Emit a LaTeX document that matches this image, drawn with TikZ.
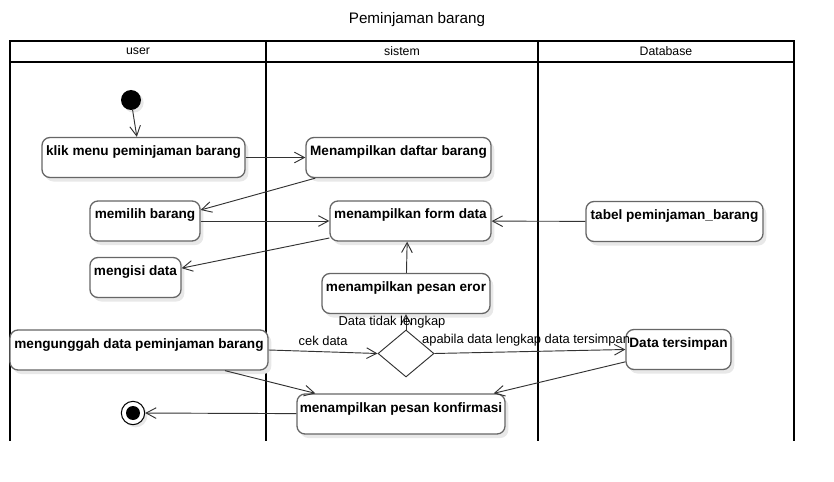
\documentclass[tikz,border=0pt]{standalone}
\usepackage{fontspec}
\setmainfont{Liberation Sans}
\usepackage{tikz}
\usetikzlibrary{shapes.geometric}
\usetikzlibrary{arrows.meta}
\usetikzlibrary{shadows}
\usetikzlibrary{calc}
\begin{document}
\begin{tikzpicture}[x=0.03cm,y=-0.03cm,
act/.style={rectangle, rounded corners=0.24cm, draw=black!60, line width=1.1pt, fill=white, font=\fontsize{11.6}{13}\selectfont\bfseries, inner xsep=2pt, inner ysep=0pt, text height=0.54cm, text depth=0.66cm, drop shadow={shadow xshift=0.1cm, shadow yshift=-0.12cm, fill=black!9, opacity=1}},
lane/.style={line width=1.6pt},
flow/.style={draw=black!80, line width=0.8pt, -{Straight Barb[length=3mm,width=3.2mm]}},
lbl/.style={font=\fontsize{11}{13}\selectfont, inner sep=1pt}]
\useasboundingbox (0,0) rectangle (834,482);
\node (title) at (417,20) [font=\fontsize{13}{15}\selectfont] {Peminjaman barang};
% swimlanes
\foreach \a/\b/\t/\n in {10/266/user/user,266/538/sistem/sis,538/794/Database/db} {
\draw[lane] (\a,41) rectangle (\b,62);
\draw[lane] (\a,62) -- (\a,441);
\draw[lane] (\b,62) -- (\b,441);
\node (lane\n) at ($0.5*(\a,0)+0.5*(\b,0)+(0,51.5)$) [font=\fontsize{10.5}{12}\selectfont] {\t};
}
% start and end
\node (start) at (131,100) [circle, fill=black, minimum size=0.6cm, inner sep=0pt, drop shadow={shadow xshift=0.08cm, shadow yshift=-0.08cm, fill=black!9, opacity=1}] {};
\node (end) at (133,413) [circle, draw=black, line width=0.9pt, fill=white, minimum size=0.7cm, inner sep=0pt, drop shadow={shadow xshift=0.08cm, shadow yshift=-0.08cm, fill=black!9, opacity=1}] {};
\node (endin) at (133,413) [circle, fill=black, minimum size=0.42cm, inner sep=0pt] {};
% activities
\node (klik) at (143.5,157.5) [act, minimum width=6.09cm] {klik menu peminjaman barang};
\node (daftar) at (398.5,157.5) [act, minimum width=5.55cm] {Menampilkan daftar barang};
\node (memilih) at (145,221) [act, minimum width=3.3cm] {memilih barang};
\node (form) at (410.5,221) [act, minimum width=4.83cm] {menampilkan form data};
\node (tabel) at (674.5,221.5) [act, minimum width=5.31cm] {tabel peminjaman\_barang};
\node (mengisi) at (135.5,277.5) [act, minimum width=2.73cm] {mengisi data};
\node (eror) at (406,293.5) [act, minimum width=5.04cm] {menampilkan pesan eror};
\node (unggah) at (139,350) [act, minimum width=7.74cm] {mengunggah data peminjaman barang};
\node (simpan) at (678.5,349.5) [act, minimum width=3.15cm] {Data tersimpan};
\node (konfirm) at (401,414) [act, minimum width=6.24cm] {menampilkan pesan konfirmasi};
\node (cek) at (406,353.5) [diamond, draw=black!80, line width=0.8pt, fill=white, minimum width=1.68cm, minimum height=1.41cm, inner sep=0pt] {};
% flows
\draw[flow] (start) -- ([xshift=-0.2cm]klik.north);
\draw[flow] (klik) -- (daftar);
\draw[flow] ([xshift=0.3cm]daftar.south west) -- ([yshift=0.33cm]memilih.east);
\draw[flow] (memilih) -- (form);
\draw[flow] (tabel) -- (form);
\draw[flow] ([yshift=-0.51cm]form.west) -- ([yshift=0.28cm]mengisi.east);
\draw[flow] (eror) -- ([xshift=-0.1cm]form.south);
\draw[flow] (unggah.east) -- node[lbl, above=4pt] (lblcek) {cek data} (cek.west);
\draw[flow] (cek.north) -- node[lbl, pos=0.45, xshift=-0.42cm] (lbltidak) {Data tidak lengkap} (eror.south);
\draw[flow] (cek.east) -- node[lbl, pos=0.48, above=3pt] (lbllengkap) {apabila data lengkap data tersimpan} (simpan.west);
\draw[flow] ([xshift=2.58cm]unggah.south) -- ([xshift=0.57cm]konfirm.north west);
\draw[flow] ([yshift=-0.37cm]simpan.west) -- ([xshift=-0.36cm]konfirm.north east);
\draw[flow] (konfirm) -- (end);
\end{tikzpicture}
\end{document}
